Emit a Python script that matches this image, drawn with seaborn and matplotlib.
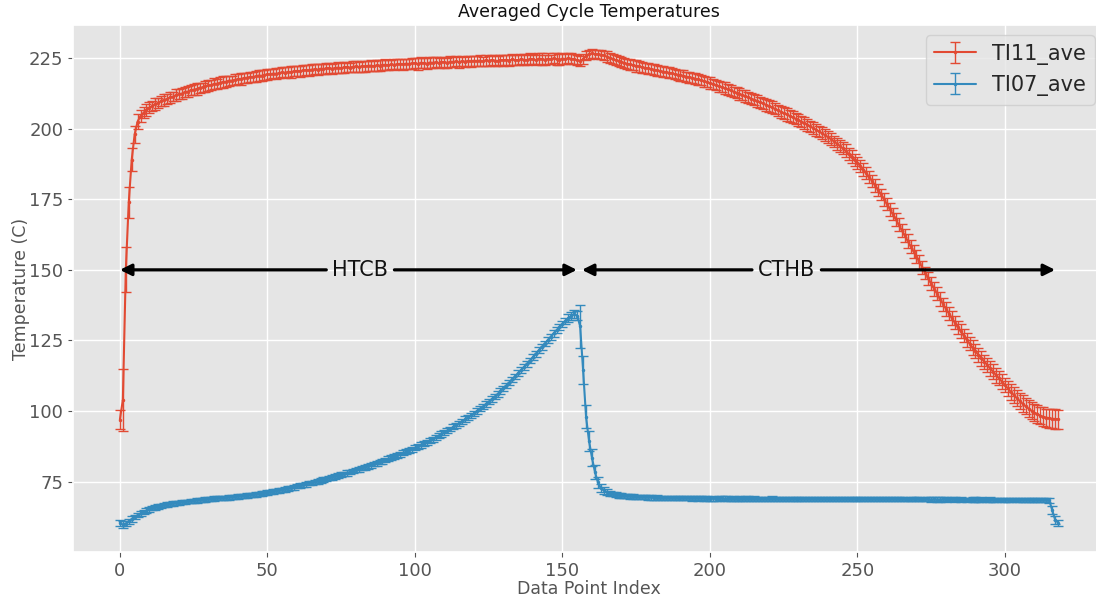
import numpy as np
import pandas as pd
import matplotlib
matplotlib.use("Agg")
import matplotlib.pyplot as plt
from matplotlib.legend_handler import HandlerTuple
import seaborn as sns

# Averaged cycle temperature for TI11 (hot side), one value per data point
ti11_ave = [
    97.0, 104.0, 150.0, 174.0, 189.0, 198.0, 202.5, 204.5, 205.6, 206.6,
    207.4, 208.0, 208.7, 209.1, 209.8, 210.2, 210.5, 211.1, 211.3, 211.9,
    212.2, 212.4, 213.0, 213.1, 213.6, 213.8, 214.0, 214.5, 214.6, 215.0,
    215.3, 215.4, 215.9, 215.9, 216.3, 216.5, 216.6, 217.0, 217.0, 217.3,
    217.5, 217.6, 217.9, 218.0, 218.3, 218.3, 218.5, 218.8, 218.7, 219.0,
    219.2, 219.2, 219.5, 219.4, 219.7, 219.9, 219.8, 220.1, 220.0, 220.3,
    220.4, 220.3, 220.6, 220.7, 220.6, 220.9, 221.0, 220.9, 221.2, 221.1,
    221.3, 221.4, 221.2, 221.5, 221.6, 221.4, 221.7, 221.8, 221.6, 221.9,
    222.0, 221.8, 222.1, 222.0, 222.2, 222.3, 222.1, 222.4, 222.3, 222.5,
    222.6, 222.4, 222.7, 222.6, 222.8, 222.9, 222.7, 223.0, 222.9, 223.1,
    223.2, 222.9, 223.3, 223.2, 223.0, 223.4, 223.3, 223.5, 223.2, 223.6,
    223.5, 223.3, 223.7, 223.6, 223.8, 223.5, 223.9, 223.7, 224.0, 223.8,
    224.0, 223.9, 224.1, 223.8, 224.2, 224.0, 224.3, 224.1, 223.9, 224.3,
    224.2, 224.4, 224.1, 224.5, 224.3, 224.2, 224.6, 224.4, 224.3, 224.7,
    224.5, 224.3, 224.8, 224.6, 224.4, 224.7, 224.5, 224.9, 224.6, 224.4,
    224.8, 224.6, 224.9, 224.7, 224.5, 224.3, 224.0, 224.6, 225.8, 226.3,
    226.6, 226.4, 226.3, 226.2, 225.9, 225.5, 225.1, 224.7, 224.3, 224.0,
    223.6, 223.3, 222.9, 222.7, 222.4, 222.2, 222.0, 221.7, 221.5, 221.3,
    221.1, 220.9, 220.6, 220.4, 220.2, 220.0, 219.8, 219.6, 219.3, 219.1,
    218.9, 218.7, 218.4, 218.2, 218.0, 217.7, 217.4, 217.1, 216.8, 216.5,
    216.1, 215.8, 215.4, 215.0, 214.7, 214.3, 213.9, 213.5, 213.1, 212.7,
    212.3, 211.9, 211.5, 211.1, 210.6, 210.2, 209.8, 209.3, 208.9, 208.4,
    208.0, 207.5, 207.0, 206.5, 206.0, 205.5, 205.0, 204.5, 204.0, 203.5,
    203.0, 202.5, 202.0, 201.4, 200.8, 200.2, 199.6, 199.0, 198.3, 197.7,
    197.0, 196.3, 195.5, 194.7, 193.9, 193.0, 192.1, 191.1, 190.1, 189.0,
    187.9, 186.7, 185.5, 184.2, 182.8, 181.4, 179.9, 178.3, 176.7, 175.0,
    173.3, 171.5, 169.7, 167.9, 166.0, 164.1, 162.2, 160.3, 158.4, 156.5,
    154.6, 152.7, 150.8, 148.9, 147.0, 145.1, 143.3, 141.5, 139.7, 137.9,
    136.2, 134.5, 132.9, 131.3, 129.7, 128.2, 126.7, 125.3, 123.9, 122.5,
    121.2, 119.9, 118.7, 117.5, 116.3, 115.1, 113.9, 112.7, 111.6, 110.4,
    109.2, 108.0, 106.8, 105.7, 104.6, 103.6, 102.6, 101.7, 100.9, 100.1,
    99.5, 98.9, 98.4, 98.0, 97.7, 97.5, 97.3, 97.2, 97.1,
]

ti11_err = [
    3.5, 11.0, 8.0, 5.5, 4.0, 3.0, 2.5, 2.2, 2.0, 2.0,
    1.9, 1.8, 2.0, 1.7, 1.9, 2.1, 1.8, 1.9, 1.7, 2.0,
    1.8, 1.9, 1.7, 2.0, 1.8, 1.9, 2.1, 1.8, 1.7, 1.9,
    2.0, 1.8, 1.9, 1.7, 1.8, 2.0, 1.9, 1.8, 1.7, 1.9,
    1.8, 2.0, 1.9, 1.7, 1.8, 1.9, 2.0, 1.8, 1.9, 1.7,
    1.9, 1.8, 1.7, 2.0, 1.9, 1.8, 1.9, 1.7, 2.0, 1.8,
    1.8, 1.9, 2.0, 1.7, 1.8, 1.9, 1.8, 2.0, 1.7, 1.9,
    1.9, 1.8, 1.7, 1.9, 2.0, 1.8, 1.9, 1.8, 1.7, 2.0,
    1.8, 1.9, 2.0, 1.8, 1.7, 1.9, 1.8, 2.0, 1.9, 1.7,
    1.9, 1.8, 1.7, 2.0, 1.8, 1.9, 2.0, 1.8, 1.7, 1.9,
    1.8, 2.0, 1.9, 1.7, 1.9, 1.8, 2.0, 1.8, 1.9, 1.7,
    2.0, 1.8, 1.9, 1.7, 1.8, 2.0, 1.9, 1.8, 1.7, 1.9,
    1.8, 1.9, 2.0, 1.7, 1.9, 1.8, 1.9, 2.0, 1.8, 1.7,
    1.9, 1.8, 2.0, 1.9, 1.7, 1.8, 1.9, 2.0, 1.8, 1.9,
    1.8, 1.7, 1.9, 2.0, 1.8, 1.9, 1.7, 1.8, 2.0, 1.9,
    1.8, 1.9, 1.7, 2.0, 1.8, 1.9, 1.8, 1.7, 1.6, 1.5,
    1.6, 1.5, 1.6, 1.7, 1.6, 1.8, 1.7, 1.8, 1.9, 1.8,
    1.9, 1.8, 1.7, 1.9, 1.8, 2.0, 1.8, 1.9, 1.7, 1.9,
    1.8, 2.0, 1.9, 1.8, 1.9, 1.7, 2.0, 1.8, 1.9, 1.8,
    1.9, 2.0, 1.8, 1.9, 1.8, 2.0, 1.9, 1.8, 2.0, 1.9,
    2.0, 1.9, 1.8, 2.0, 1.9, 2.1, 1.9, 2.0, 1.8, 2.0,
    2.0, 1.9, 2.1, 2.0, 1.9, 2.0, 2.1, 1.9, 2.0, 2.1,
    2.0, 2.1, 1.9, 2.0, 2.1, 2.0, 2.2, 2.0, 2.1, 2.0,
    2.1, 2.0, 2.2, 2.1, 2.0, 2.1, 2.2, 2.0, 2.1, 2.2,
    2.1, 2.2, 2.0, 2.1, 2.2, 2.1, 2.3, 2.1, 2.2, 2.1,
    2.2, 2.1, 2.3, 2.2, 2.1, 2.2, 2.3, 2.2, 2.1, 2.3,
    2.2, 2.3, 2.2, 2.4, 2.2, 2.3, 2.2, 2.4, 2.3, 2.2,
    2.3, 2.4, 2.3, 2.2, 2.4, 2.3, 2.4, 2.3, 2.5, 2.3,
    2.4, 2.3, 2.5, 2.4, 2.3, 2.5, 2.4, 2.5, 2.4, 2.6,
    2.5, 2.4, 2.6, 2.5, 2.6, 2.5, 2.7, 2.6, 2.5, 2.7,
    2.6, 2.7, 2.8, 2.7, 2.9, 2.8, 3.0, 2.9, 3.1, 3.0,
    3.1, 3.2, 3.1, 3.3, 3.2, 3.4, 3.3, 3.4, 3.4,
]

# Averaged cycle temperature for TI07 (cold side)
ti07_ave = [
    60.5, 59.8, 60.2, 61.0, 61.8, 62.5, 63.2, 63.8, 64.3, 64.8,
    65.2, 65.6, 65.9, 66.2, 66.5, 66.7, 66.9, 67.1, 67.3, 67.5,
    67.6, 67.8, 67.9, 68.0, 68.1, 68.3, 68.4, 68.5, 68.6, 68.7,
    68.8, 68.9, 69.0, 69.1, 69.2, 69.3, 69.4, 69.5, 69.6, 69.7,
    69.8, 69.9, 70.0, 70.1, 70.3, 70.4, 70.5, 70.7, 70.8, 71.0,
    71.1, 71.3, 71.5, 71.7, 71.9, 72.1, 72.3, 72.6, 72.8, 73.0,
    73.4, 73.6, 73.9, 74.1, 74.4, 74.6, 74.9, 75.1, 75.4, 75.7,
    76.0, 76.3, 76.6, 76.9, 77.2, 77.5, 77.8, 78.1, 78.4, 78.8,
    79.1, 79.4, 79.8, 80.1, 80.5, 80.8, 81.2, 81.6, 81.9, 82.3,
    82.7, 83.1, 83.5, 83.9, 84.3, 84.7, 85.2, 85.6, 86.1, 86.5,
    87.0, 87.5, 88.0, 88.5, 89.0, 89.6, 90.1, 90.7, 91.3, 91.9,
    92.5, 93.1, 93.7, 94.4, 95.0, 95.7, 96.4, 97.1, 97.8, 98.5,
    99.2, 100.0, 100.8, 101.6, 102.4, 103.3, 104.2, 105.1, 106.0, 107.0,
    108.0, 109.0, 110.1, 111.2, 112.3, 113.4, 114.5, 115.6, 116.7, 117.9,
    119.1, 120.3, 121.5, 122.7, 123.9, 125.1, 126.3, 127.5, 128.6, 129.7,
    130.8, 131.9, 132.9, 133.8, 134.3, 133.8, 130.0, 114.5, 98.0, 89.5,
    83.5, 78.5, 74.8, 72.8, 71.9, 71.3, 70.9, 70.6, 70.4, 70.2,
    70.1, 70.0, 69.9, 69.8, 69.7, 69.7, 69.6, 69.6, 69.5, 69.5,
    69.5, 69.4, 69.4, 69.4, 69.3, 69.3, 69.3, 69.3, 69.2, 69.2,
    69.2, 69.2, 69.2, 69.1, 69.1, 69.1, 69.1, 69.1, 69.1, 69.0,
    69.0, 69.1, 69.0, 69.0, 69.1, 69.0, 69.0, 68.9, 69.0, 69.0,
    69.0, 68.9, 69.0, 69.0, 68.9, 69.0, 68.9, 68.9, 69.0, 68.9,
    68.9, 69.0, 68.9, 68.9, 68.9, 69.0, 68.9, 68.9, 68.9, 68.9,
    68.9, 68.9, 69.0, 68.9, 68.9, 68.9, 68.8, 68.9, 68.9, 68.9,
    68.9, 68.8, 68.9, 68.9, 68.9, 68.8, 68.9, 68.9, 68.8, 68.9,
    68.9, 68.8, 68.8, 68.9, 68.8, 68.8, 68.9, 68.8, 68.8, 68.8,
    68.8, 68.8, 68.9, 68.8, 68.8, 68.8, 68.8, 68.7, 68.8, 68.8,
    68.8, 68.8, 68.7, 68.8, 68.8, 68.7, 68.8, 68.7, 68.7, 68.8,
    68.7, 68.7, 68.8, 68.7, 68.7, 68.7, 68.7, 68.6, 68.7, 68.7,
    68.7, 68.6, 68.7, 68.7, 68.6, 68.7, 68.6, 68.6, 68.7, 68.6,
    68.6, 68.6, 68.6, 68.7, 68.6, 68.6, 68.5, 68.6, 68.6, 68.5,
    68.6, 68.5, 68.5, 68.6, 68.5, 68.4, 65.0, 61.5, 60.5,
]

ti07_err = [
    1.0, 1.2, 1.0, 0.9, 0.9, 0.8, 0.8, 0.8, 0.8, 0.8,
    0.8, 0.7, 0.8, 0.8, 0.7, 0.8, 0.8, 0.7, 0.8, 0.8,
    0.7, 0.8, 0.8, 0.7, 0.8, 0.7, 0.8, 0.8, 0.7, 0.8,
    0.8, 0.7, 0.8, 0.7, 0.8, 0.8, 0.7, 0.8, 0.8, 0.7,
    0.8, 0.8, 0.7, 0.8, 0.8, 0.7, 0.8, 0.8, 0.8, 0.7,
    0.8, 0.8, 0.8, 0.7, 0.8, 0.8, 0.8, 0.8, 0.7, 0.8,
    0.8, 0.8, 0.8, 0.8, 0.7, 0.8, 0.8, 0.8, 0.8, 0.8,
    0.8, 0.8, 0.9, 0.8, 0.8, 0.8, 0.8, 0.9, 0.8, 0.8,
    0.8, 0.9, 0.8, 0.8, 0.9, 0.8, 0.8, 0.9, 0.8, 0.9,
    0.8, 0.9, 0.9, 0.8, 0.9, 0.8, 0.9, 0.9, 0.8, 0.9,
    0.9, 0.8, 0.9, 0.9, 0.9, 0.8, 0.9, 0.9, 0.9, 0.9,
    0.9, 0.9, 0.8, 0.9, 0.9, 0.9, 0.9, 1.0, 0.9, 0.9,
    0.9, 1.0, 0.9, 0.9, 1.0, 0.9, 1.0, 0.9, 1.0, 1.0,
    0.9, 1.0, 1.0, 1.0, 0.9, 1.0, 1.0, 1.0, 1.0, 1.0,
    1.0, 1.0, 1.1, 1.0, 1.0, 1.1, 1.0, 1.1, 1.1, 1.0,
    1.1, 1.2, 1.3, 1.4, 1.5, 1.5, 7.5, 5.0, 4.0, 3.5,
    3.0, 2.5, 2.0, 1.5, 1.2, 1.0, 0.9, 0.8, 0.8, 0.8,
    0.8, 0.8, 0.7, 0.8, 0.8, 0.7, 0.8, 0.8, 0.7, 0.8,
    0.8, 0.7, 0.8, 0.7, 0.8, 0.8, 0.7, 0.8, 0.7, 0.8,
    0.7, 0.8, 0.8, 0.7, 0.8, 0.7, 0.8, 0.7, 0.8, 0.8,
    0.7, 0.8, 0.7, 0.8, 0.7, 0.8, 0.8, 0.7, 0.8, 0.7,
    0.8, 0.7, 0.8, 0.8, 0.7, 0.8, 0.7, 0.8, 0.7, 0.8,
    0.7, 0.8, 0.7, 0.8, 0.8, 0.7, 0.8, 0.7, 0.8, 0.7,
    0.8, 0.8, 0.7, 0.8, 0.7, 0.8, 0.7, 0.8, 0.8, 0.7,
    0.8, 0.7, 0.8, 0.7, 0.8, 0.8, 0.7, 0.8, 0.7, 0.8,
    0.7, 0.8, 0.8, 0.7, 0.8, 0.7, 0.8, 0.8, 0.7, 0.8,
    0.7, 0.8, 0.7, 0.8, 0.8, 0.7, 0.8, 0.7, 0.8, 0.7,
    0.8, 0.8, 0.7, 0.8, 0.7, 0.8, 0.7, 0.8, 0.8, 0.7,
    0.8, 0.7, 0.8, 0.8, 0.7, 0.8, 0.7, 0.8, 0.7, 0.8,
    0.8, 0.7, 0.8, 0.7, 0.8, 0.8, 0.7, 0.8, 0.7, 0.8,
    0.7, 0.8, 0.8, 0.7, 0.8, 0.7, 0.8, 0.8, 0.7, 0.8,
    0.8, 0.8, 0.8, 0.8, 0.8, 0.9, 1.5, 1.5, 1.0,
]

series_names = ["TI11_ave", "TI07_ave"]
series_colors = ["#E24A33", "#348ABD"]

# Heating / cooling phase spans (data point index) and label positions
phase_labels = ["HTCB", "CTHB"]
phase_spans = [(0.0, 154.9), (156.6, 317.0)]
phase_label_x = [81.5, 226.0]
phase_level = 150.0

df = pd.DataFrame({
    "index": np.arange(len(ti11_ave)),
    "TI11_ave": ti11_ave,
    "TI11_err": ti11_err,
    "TI07_ave": ti07_ave,
    "TI07_err": ti07_err,
})

sns.set_theme(style="darkgrid", rc={
    "axes.facecolor": "#E5E5E5",
    "figure.facecolor": "white",
    "grid.color": "white",
    "grid.linewidth": 1.0,
    "axes.edgecolor": "white",
    "axes.labelcolor": "#555555",
    "xtick.color": "#555555",
    "ytick.color": "#555555",
    "xtick.bottom": True,
    "ytick.left": True,
    "xtick.major.size": 3.5,
    "ytick.major.size": 3.5,
    "xtick.major.width": 0.8,
    "ytick.major.width": 0.8,
    "legend.frameon": True,
    "legend.facecolor": "inherit",
    "legend.edgecolor": "0.8",
    "legend.framealpha": 0.8,
})
plt.rcParams["font.family"] = ["DejaVu Sans"]

fig = plt.figure(figsize=(10.96, 5.98), dpi=100)
ax = fig.add_axes([73 / 1096, 46 / 598, 1032 / 1096, 527 / 598])

handles = []
for name, color in zip(series_names, series_colors):
    sns.lineplot(data=df, x="index", y=name, ax=ax, color=color,
                 marker=".", markersize=5, markeredgewidth=0,
                 linewidth=1.5, estimator=None, errorbar=None,
                 sort=False, legend=False)
    line = ax.lines[-1]
    eb = ax.errorbar(df["index"], df[name], yerr=df[name.replace("ave", "err")],
                     fmt="none", ecolor=color, elinewidth=1.0,
                     capsize=3.5, capthick=1.0)
    handles.append((line, eb))

# Phase arrows with their labels sitting on the arrow line
arrow_kw = dict(arrowstyle="-|>", color="black", lw=2.3,
                mutation_scale=17, shrinkA=2, shrinkB=0)
for label, (x0, x1), xt in zip(phase_labels, phase_spans, phase_label_x):
    ax.annotate(label, xy=(x0, phase_level), xytext=(xt, phase_level),
                ha="center", va="center", fontsize=15, color="#111111",
                arrowprops=arrow_kw)
    ax.annotate(label, xy=(x1, phase_level), xytext=(xt, phase_level),
                ha="center", va="center", fontsize=15, color=(0, 0, 0, 0),
                arrowprops=arrow_kw)

ax.set_xticks([0, 50, 100, 150, 200, 250, 300])
ax.set_yticks([75, 100, 125, 150, 175, 200, 225])
ax.tick_params(axis="both", labelsize=13)
ax.set_xlabel("Data Point Index", fontsize=12.5, labelpad=0)
ax.set_ylabel("Temperature (C)", fontsize=12.5, labelpad=-1)
ax.set_title("Averaged Cycle Temperatures", fontsize=12.5, color="#111111")

ax.legend(handles, series_names, loc="upper right", fontsize=15,
          handler_map={tuple: HandlerTuple(ndivide=1)})

fig.savefig("out.png", dpi=100)
